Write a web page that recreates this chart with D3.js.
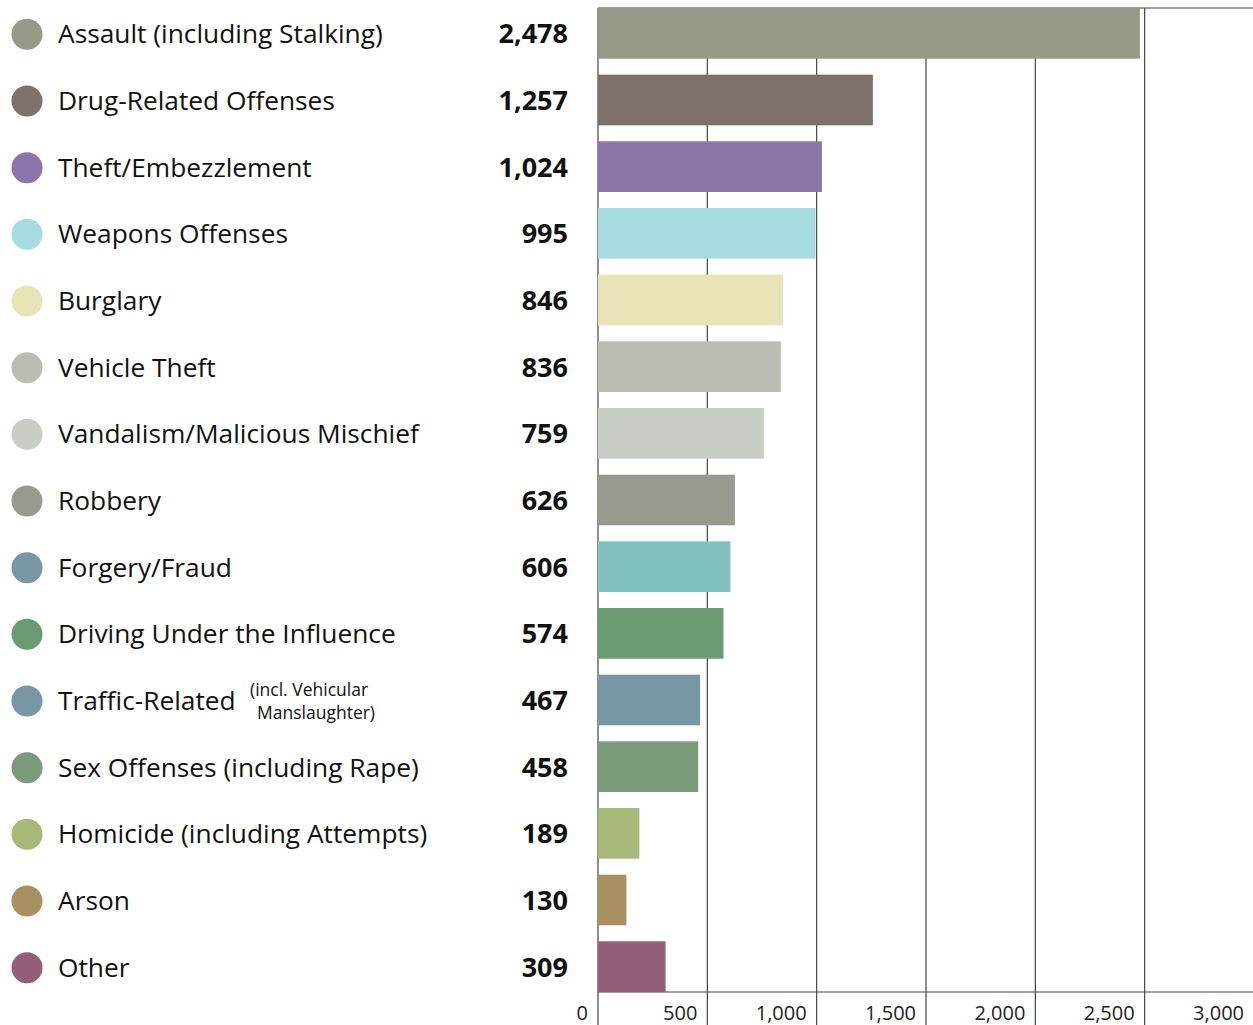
<!DOCTYPE html>
<html>
<head>
<meta charset="utf-8">
<script src="https://cdn.jsdelivr.net/npm/d3@7"></script>
<style>
  body { margin: 0; background: #fff; }
  text { font-family: "Open Sans", "Noto Sans", sans-serif; }
</style>
</head>
<body>
<div id="chart"></div>
<script>
// ---------- data ----------
var categories = [
  "Assault (including Stalking)",
  "Drug-Related Offenses",
  "Theft/Embezzlement",
  "Weapons Offenses",
  "Burglary",
  "Vehicle Theft",
  "Vandalism/Malicious Mischief",
  "Robbery",
  "Forgery/Fraud",
  "Driving Under the Influence",
  "Traffic-Related",
  "Sex Offenses (including Rape)",
  "Homicide (including Attempts)",
  "Arson",
  "Other"
];
var counts = [2478, 1257, 1024, 995, 846, 836, 759, 626, 606, 574, 467, 458, 189, 130, 309];
var barColors = ["#979886", "#7e706c", "#8b75a9", "#a6dbe0", "#e8e4b8", "#b9bdb4", "#c8cec6",
                 "#979b8f", "#83c0c0", "#6a9b72", "#7896a4", "#7a9b7a", "#a8b878", "#a89060", "#935f78"];
var dotColors = ["#979886", "#7e706c", "#8b75a9", "#a6dbe0", "#e8e4b8", "#b9bdb4", "#c8cec6",
                 "#979b8f", "#7896a4", "#6a9b72", "#7896a4", "#7a9b7a", "#a8b878", "#a89060", "#935f78"];
var noteLines = ["(incl. Vehicular", "Manslaughter)"];
var tickValues = [0, 500, 1000, 1500, 2000, 2500, 3000];

var width = 1253, height = 1025;
var plotLeft = 598, plotTop = 8, axisY = 992;

var svg = d3.select("#chart")
  .append("svg")
  .attr("width", width)
  .attr("height", height);

// ---------- scales ----------
var x = d3.scaleLinear()
  .domain([0, 3000])
  .range([plotLeft, 1254]);

var y = d3.scaleBand()
  .domain(categories)
  .range([0, 1000])
  .paddingInner(0.24)
  .paddingOuter(0.12);

var rows = categories.map(function(c, i) {
  return { name: c, value: counts[i], bar: barColors[i], dot: dotColors[i] };
});

// ---------- gridlines ----------
svg.append("g")
  .selectAll("line")
  .data(tickValues)
  .enter().append("line")
  .attr("x1", function(d) { return x(d); })
  .attr("x2", function(d) { return x(d); })
  .attr("y1", plotTop)
  .attr("y2", height)
  .attr("stroke", "#444")
  .attr("stroke-width", 1.2);

// top border and bottom axis line
svg.append("line")
  .attr("x1", plotLeft).attr("x2", width)
  .attr("y1", plotTop).attr("y2", plotTop)
  .attr("stroke", "#444").attr("stroke-width", 1.2);
svg.append("line")
  .attr("x1", plotLeft).attr("x2", width)
  .attr("y1", axisY).attr("y2", axisY)
  .attr("stroke", "#444").attr("stroke-width", 1.2);

// ---------- bars ----------
svg.append("g")
  .selectAll("rect")
  .data(rows)
  .enter().append("rect")
  .attr("x", x(0))
  .attr("y", function(d) { return y(d.name); })
  .attr("width", function(d) { return x(d.value) - x(0); })
  .attr("height", y.bandwidth())
  .attr("fill", function(d) { return d.bar; });

// ---------- legend labels ----------
var label = svg.append("g")
  .selectAll("g")
  .data(rows)
  .enter().append("g")
  .attr("transform", function(d) {
    return "translate(0," + (y(d.name) + y.bandwidth() / 2) + ")";
  });

label.append("circle")
  .attr("cx", 27)
  .attr("cy", 1)
  .attr("r", 15.5)
  .attr("fill", function(d) { return d.dot; });

label.append("text")
  .attr("x", 58)
  .attr("y", 10)
  .style("font-size", "26.3px")
  .style("fill", "#111")
  .text(function(d) { return d.name; });

label.append("text")
  .attr("x", 568)
  .attr("y", 10)
  .attr("text-anchor", "end")
  .style("font-size", "27px")
  .style("font-weight", "bold")
  .style("fill", "#111")
  .text(function(d) { return d3.format(",")(d.value); });

// small note next to Traffic-Related, one text with two lines
var trafficY = y("Traffic-Related") + y.bandwidth() / 2;
svg.append("text")
  .attr("y", trafficY - 4)
  .style("font-size", "17.5px")
  .style("fill", "#111")
  .selectAll("tspan")
  .data(noteLines)
  .enter().append("tspan")
  .attr("x", function(d, i) { return i === 0 ? 250 : 257; })
  .attr("dy", function(d, i) { return i === 0 ? 0 : 23; })
  .text(function(d) { return d; });

// ---------- tick labels ----------
svg.append("g")
  .selectAll("text")
  .data(tickValues)
  .enter().append("text")
  .attr("x", function(d) { return x(d) - 10; })
  .attr("y", 1020)
  .attr("text-anchor", "end")
  .style("font-size", "20px")
  .style("fill", "#222")
  .text(function(d) { return d3.format(",")(d); });
</script>
</body>
</html>
